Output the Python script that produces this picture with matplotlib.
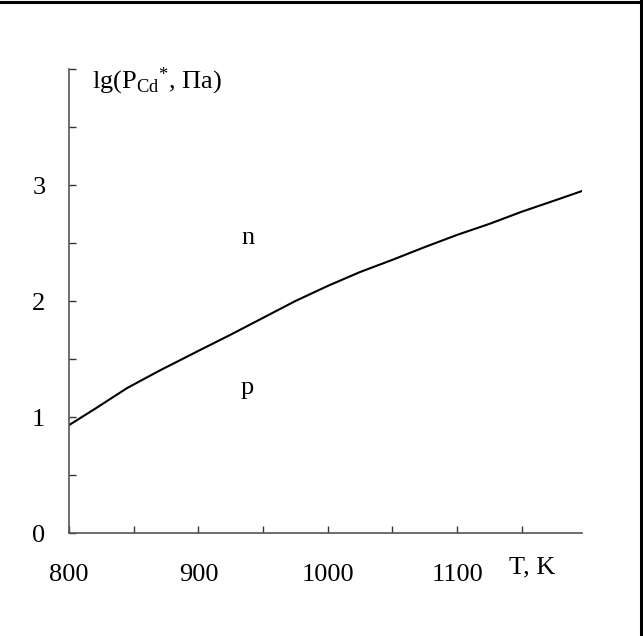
import numpy as np
import matplotlib
matplotlib.use('Agg')
import matplotlib.pyplot as plt
from matplotlib.lines import Line2D

plt.rcParams['font.family'] = ['Liberation Serif', 'DejaVu Serif']
plt.rcParams['mathtext.fontset'] = 'custom'
plt.rcParams['mathtext.rm'] = 'Liberation Serif'
plt.rcParams['mathtext.it'] = 'Liberation Serif:italic'

# curve
T = [800, 820, 845, 870, 900, 925, 950, 975, 1000, 1025, 1050, 1075, 1100, 1125, 1150, 1175, 1197]
lgP = [0.93, 1.07, 1.25, 1.40, 1.57, 1.71, 1.855, 2.00, 2.13, 2.25, 2.355, 2.465, 2.57, 2.665, 2.77, 2.865, 2.95]

x_major = [800, 900, 1000, 1100]
x_minor = [850, 950, 1050, 1150]
y_major = [0, 1, 2, 3]
y_minor = [0.5, 1.5, 2.5, 3.5, 4]

fs = 19

fig = plt.figure(figsize=(6.43, 6.36), dpi=100)
ax = fig.add_axes([69/643, 1 - 533/636, 513/643, 464/636])

ax.plot(T, lgP, color='black', lw=1.5)

ax.set_xlim(800, 1196.5)
ax.set_ylim(0, 4)
for s in ['top', 'right']:
    ax.spines[s].set_visible(False)
for s in ['left', 'bottom']:
    ax.spines[s].set_color('#555555')
    ax.spines[s].set_linewidth(1.2)

ax.set_xticks(x_major)
ax.set_xticks(x_minor, minor=True)
ax.set_yticks(y_major)
ax.set_yticks(y_minor, minor=True)
ax.tick_params(which='both', direction='in', color='#333333', width=1, labelsize=fs, length=5)
ax.tick_params(axis='x', pad=22)
ax.tick_params(axis='y', pad=17)

ax.text(1158, -0.30, 'T, K', fontsize=fs, ha='center', va='center', clip_on=False)
ax.text(818, 3.89, r'lg(P$_{\mathrm{Cd}}$${}^{*}$, Па)', fontsize=fs, ha='left', va='center')
ax.text(938, 2.54, 'n', fontsize=fs, ha='center', va='center')
ax.text(938, 1.25, 'p', fontsize=fs, ha='center', va='center')

# frame lines at top and right edge
fig.add_artist(Line2D([0, 1], [1 - 1.5/636, 1 - 1.5/636], color='black', lw=2.2, transform=fig.transFigure))
fig.add_artist(Line2D([1 - 2/643, 1 - 2/643], [0, 1], color='black', lw=2.2, transform=fig.transFigure))

fig.savefig('out.png', dpi=100)
